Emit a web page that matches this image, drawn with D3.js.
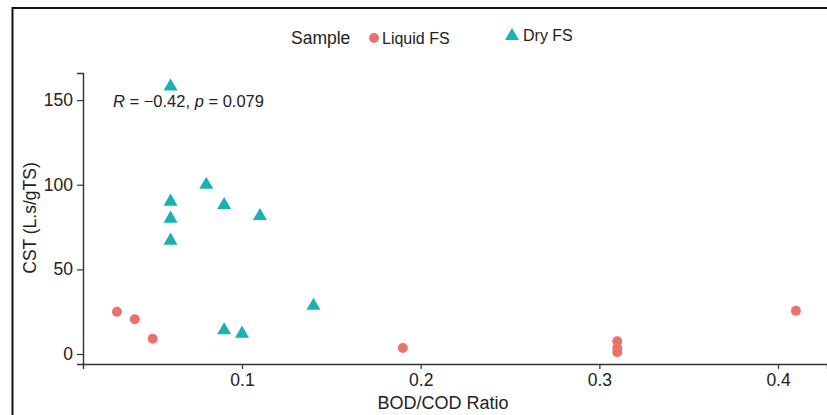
<!DOCTYPE html>
<html>
<head>
<meta charset="utf-8">
<script src="https://cdn.jsdelivr.net/npm/d3@7"></script>
<style>
  body { margin: 0; background: #fff; }
  text { font-family: "Liberation Sans", Arial, sans-serif; fill: #222; }
</style>
</head>
<body>
<svg id="chart" width="827" height="415"></svg>
<script>
// data
var liquidX = [0.03, 0.04, 0.05, 0.19, 0.31, 0.31, 0.31, 0.41];
var liquidY = [25, 20.5, 9, 3.5, 7.5, 3.5, 1, 25.5];
var dryX = [0.06, 0.06, 0.06, 0.06, 0.08, 0.09, 0.11, 0.09, 0.10, 0.14];
var dryY = [158, 90, 80, 67, 100, 88, 81.5, 14, 12, 28.5];
var xTicks = [0.1, 0.2, 0.3, 0.4];
var yTicks = [0, 50, 100, 150];
var seriesNames = ["Liquid FS", "Dry FS"];
var colors = ["#e8736c", "#1cb0b3"];

var svg = d3.select("#chart");

var x = d3.scaleLinear().domain([0.011, 0.4274]).range([83, 827]);
var y = d3.scaleLinear().domain([-5.9, 166]).range([364, 73]);

// outer frame (left + top only)
svg.append("path")
    .attr("d", "M12.5,415 V8 H827")
    .attr("fill", "none")
    .attr("stroke", "#111")
    .attr("stroke-width", 2);

// axes
var xAxis = svg.append("g")
    .attr("transform", "translate(0," + y.range()[0] + ")")
    .call(d3.axisBottom(x).tickValues(xTicks).tickSize(5).tickPadding(5).tickFormat(d3.format(".1f")));
var yAxis = svg.append("g")
    .attr("transform", "translate(" + x.range()[0] + ",0)")
    .call(d3.axisLeft(y).tickValues(yTicks).tickSize(6).tickPadding(4));

[xAxis, yAxis].forEach(function(a) {
  a.select(".domain").attr("stroke", "#333").attr("stroke-width", 1.4);
  a.selectAll(".tick line").attr("stroke", "#333").attr("stroke-width", 1.2);
  a.selectAll(".tick text").attr("font-size", 17.5).attr("fill", "#333")
    .attr("font-family", "Liberation Sans, Arial, sans-serif");
});

// axis titles
svg.append("text")
    .attr("x", 443).attr("y", 409)
    .attr("text-anchor", "middle")
    .attr("font-size", 18)
    .text("BOD/COD Ratio");

svg.append("text")
    .attr("transform", "translate(36,218) rotate(-90)")
    .attr("text-anchor", "middle")
    .attr("font-size", 17.5)
    .text("CST (L.s/gTS)");

// points
var triangle = d3.symbol().type(d3.symbolTriangle).size(85);

svg.append("g").selectAll("circle")
    .data(d3.range(liquidX.length))
  .enter()
    .append("circle")
    .attr("cx", function(i) { return x(liquidX[i]); })
    .attr("cy", function(i) { return y(liquidY[i]); })
    .attr("r", 5)
    .attr("fill", colors[0]);

svg.append("g").selectAll("path")
    .data(d3.range(dryX.length))
  .enter()
    .append("path")
    .attr("d", triangle)
    .attr("transform", function(i) { return "translate(" + x(dryX[i]) + "," + y(dryY[i]) + ")"; })
    .attr("fill", colors[1]);

// correlation label
var stat = svg.append("text")
    .attr("x", 113).attr("y", 107)
    .attr("font-size", 16.5);
stat.append("tspan").attr("font-style", "italic").text("R");
stat.append("tspan").text(" = \u22120.42, ");
stat.append("tspan").attr("font-style", "italic").text("p");
stat.append("tspan").text(" = 0.079");

// legend
var legend = svg.append("g");
legend.append("text")
    .attr("x", 291).attr("y", 44)
    .attr("font-size", 17.5)
    .text("Sample");
legend.append("circle")
    .attr("cx", 374).attr("cy", 38).attr("r", 5)
    .attr("fill", colors[0]);
legend.append("text")
    .attr("x", 382).attr("y", 44)
    .attr("font-size", 16)
    .text(seriesNames[0]);
legend.append("path")
    .attr("d", triangle)
    .attr("transform", "translate(512,36)")
    .attr("fill", colors[1]);
legend.append("text")
    .attr("x", 523).attr("y", 41)
    .attr("font-size", 16)
    .text(seriesNames[1]);
</script>
</body>
</html>
